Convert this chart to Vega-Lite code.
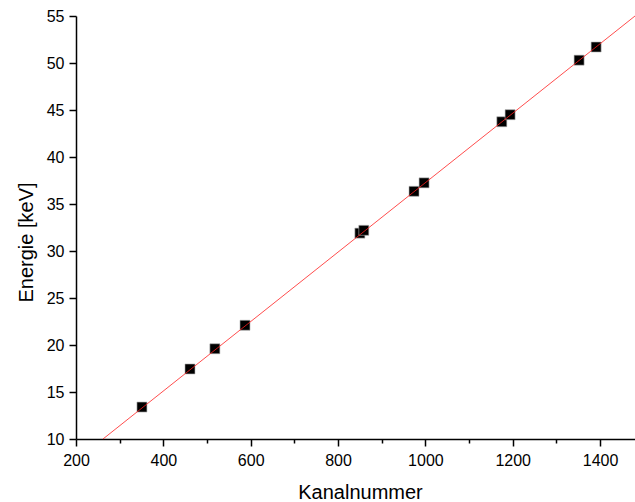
{
  "$schema": "https://vega.github.io/schema/vega-lite/v6.json",
  "width": 559,
  "height": 423,
  "autosize": {"type": "none"},
  "padding": {"left": 76, "top": 16, "right": 0, "bottom": 63},
  "background": "white",
  "config": {
    "view": {"stroke": null},
    "font": "Liberation Sans",
    "axis": {
      "grid": false,
      "domainColor": "black",
      "domainWidth": 1.5,
      "tickColor": "black",
      "tickWidth": 1.5,
      "labelFont": "Liberation Sans",
      "labelFontSize": 16,
      "labelColor": "black",
      "labelFlush": false,
      "titleFont": "Liberation Sans",
      "titleFontSize": 20,
      "titleFontWeight": "normal",
      "titleColor": "black",
      "labelOverlap": false
    }
  },
  "datasets": {
    "points": [
      {"kanal": 351, "energie": 13.4},
      {"kanal": 461, "energie": 17.45},
      {"kanal": 518, "energie": 19.6},
      {"kanal": 587, "energie": 22.1},
      {"kanal": 850, "energie": 31.9},
      {"kanal": 859, "energie": 32.2},
      {"kanal": 974, "energie": 36.35},
      {"kanal": 997, "energie": 37.25},
      {"kanal": 1175, "energie": 43.75},
      {"kanal": 1194, "energie": 44.5},
      {"kanal": 1352, "energie": 50.3},
      {"kanal": 1391, "energie": 51.7}
    ],
    "fit": [
      {"kanal": 261.8, "energie": 10},
      {"kanal": 1480, "energie": 55}
    ]
  },
  "layer": [
    {
      "data": {"name": "points"},
      "mark": {"type": "point", "shape": "square", "filled": true, "size": 100, "color": "black", "stroke": "#b0b0b0", "strokeWidth": 0.6, "opacity": 1},
      "encoding": {
        "x": {
          "field": "kanal", "type": "quantitative",
          "scale": {"domain": [200, 1480], "nice": false, "zero": false},
          "axis": {
            "title": "Kanalnummer",
            "values": [200, 300, 400, 500, 600, 700, 800, 900, 1000, 1100, 1200, 1300, 1400],
            "labelExpr": "datum.value % 200 === 0 ? datum.label : ''",
            "format": "d",
            "labelFlush": false,
            "tickSize": {"condition": {"test": "datum.value % 200 === 0", "value": 7}, "value": 4},
            "labelPadding": 6,
            "titleX": 284,
            "titleY": 59,
            "titleBaseline": "alphabetic",
            "titleAnchor": "middle"
          }
        },
        "y": {
          "field": "energie", "type": "quantitative",
          "scale": {"domain": [10, 55], "nice": false, "zero": false},
          "axis": {
            "title": "Energie [keV]",
            "values": [10, 12.5, 15, 17.5, 20, 22.5, 25, 27.5, 30, 32.5, 35, 37.5, 40, 42.5, 45, 47.5, 50, 52.5, 55],
            "labelExpr": "datum.value % 5 === 0 ? datum.label : ''",
            "format": "d",
            "labelFlush": false,
            "tickSize": {"condition": {"test": "datum.value % 5 === 0", "value": 7}, "value": 4},
            "labelPadding": 5,
            "titleX": -43.5,
            "titleY": 226,
            "titleBaseline": "alphabetic",
            "titleAnchor": "middle",
            "titleAngle": -90
          }
        }
      }
    },
    {
      "data": {"name": "fit"},
      "mark": {"type": "line", "color": "#ff2020", "strokeWidth": 0.8},
      "encoding": {
        "x": {"field": "kanal", "type": "quantitative"},
        "y": {"field": "energie", "type": "quantitative"}
      }
    }
  ]
}
